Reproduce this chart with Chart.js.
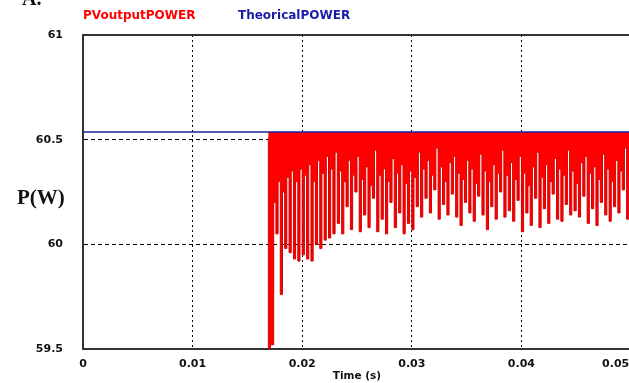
<!DOCTYPE html>
<html>
<head>
<meta charset="utf-8">
<script src="https://cdn.jsdelivr.net/npm/chart.js@4/dist/chart.umd.min.js"></script>
<style>
html,body{margin:0;padding:0;background:#fff;overflow:hidden;width:629px;height:383px;}
#wrap{position:absolute;left:0;top:0;width:660px;height:383px;}
</style>
</head>
<body>
<div id="wrap"><canvas id="c" width="660" height="383"></canvas></div>
<script>
// ---- data ----
const seriesNames = ["PVoutputPOWER", "TheoricalPOWER"];
const xTickLabels = ["0", "0.01", "0.02", "0.03", "0.04", "0.05"];
const yTickLabels = ["59.5", "60", "60.5", "61"];

const theoryTime  = [0, 0.05];
const theoryPower = [60.537, 60.537];

const redTime = [
 0.01690,0.01692,0.01730,0.01750,0.01770,0.01790,0.01810,0.01830,0.01850,0.01870,
 0.01890,0.01910,0.01930,0.01950,0.01970,0.01990,0.02010,0.02030,0.02050,0.02070,
 0.02090,0.02110,0.02130,0.02150,0.02170,0.02190,0.02210,0.02230,0.02250,0.02270,
 0.02290,0.02310,
 0.0233,0.0235,0.0237,0.0239,0.0241,0.0243,0.0245,0.0247,0.0249,0.0251,
 0.0253,0.0255,0.0257,0.0259,0.0261,0.0263,0.0265,0.0267,0.0269,0.0271,
 0.0273,0.0275,0.0277,0.0279,0.0281,0.0283,0.0285,0.0287,0.0289,0.0291,
 0.0293,0.0295,0.0297,0.0299,0.0301,0.0303,0.0305,0.0307,0.0309,0.0311,
 0.0313,0.0315,0.0317,0.0319,0.0321,0.0323,0.0325,0.0327,0.0329,0.0331,
 0.0333,0.0335,0.0337,0.0339,0.0341,0.0343,0.0345,0.0347,0.0349,0.0351,
 0.0353,0.0355,0.0357,0.0359,0.0361,0.0363,0.0365,0.0367,0.0369,0.0371,
 0.0373,0.0375,0.0377,0.0379,0.0381,0.0383,0.0385,0.0387,0.0389,0.0391,
 0.0393,0.0395,0.0397,0.0399,0.0401,0.0403,0.0405,0.0407,0.0409,0.0411,
 0.0413,0.0415,0.0417,0.0419,0.0421,0.0423,0.0425,0.0427,0.0429,0.0431,
 0.0433,0.0435,0.0437,0.0439,0.0441,0.0443,0.0445,0.0447,0.0449,0.0451,
 0.0453,0.0455,0.0457,0.0459,0.0461,0.0463,0.0465,0.0467,0.0469,0.0471,
 0.0473,0.0475,0.0477,0.0479,0.0481,0.0483,0.0485,0.0487,0.0489,0.0491,
 0.0493,0.0495,0.0497,0.0499,0.0501,0.0503
];
const redPower = [
 60.51,59.50,59.52,60.20,60.05,60.30,59.76,60.25,59.98,60.32,
 59.96,60.35,59.93,60.30,59.92,60.36,59.95,60.33,59.93,60.38,
 59.92,60.30,60.00,60.40,59.98,60.34,60.02,60.42,60.03,60.36,
 60.05,60.44,
 60.10,60.35,60.05,60.30,60.18,60.40,60.07,60.33,60.25,60.42,
 60.06,60.31,60.14,60.37,60.08,60.28,60.22,60.45,60.06,60.33,
 60.12,60.36,60.05,60.30,60.20,60.41,60.08,60.34,60.15,60.38,
 60.05,60.29,60.10,60.35,60.07,60.32,60.18,60.44,60.13,60.36,
 60.22,60.40,60.15,60.33,60.26,60.46,60.12,60.37,60.19,60.30,
 60.14,60.39,60.24,60.42,60.13,60.34,60.09,60.31,60.20,60.40,
 60.15,60.36,60.11,60.29,60.23,60.43,60.14,60.35,60.07,60.30,
 60.18,60.38,60.12,60.34,60.25,60.45,60.13,60.33,60.16,60.39,
 60.11,60.31,60.21,60.42,60.06,60.34,60.15,60.28,60.09,60.37,
 60.22,60.44,60.08,60.32,60.17,60.38,60.10,60.30,60.24,60.41,
 60.12,60.36,60.11,60.33,60.19,60.45,60.14,60.35,60.16,60.29,
 60.13,60.39,60.23,60.42,60.10,60.34,60.17,60.37,60.09,60.31,
 60.20,60.43,60.14,60.36,60.11,60.30,60.18,60.40,60.15,60.35,
 60.26,60.46,60.12,60.33,60.16,60.38
];

// ---- chart ----
const redData = redTime.map((t, i) => ({x: t, y: redPower[i]}));
const theoryData = theoryTime.map((t, i) => ({x: t, y: theoryPower[i]}));

const frameAndText = {
  id: 'frameAndText',
  afterDraw(chart) {
    const ctx = chart.ctx, a = chart.chartArea;
    ctx.save();
    ctx.strokeStyle = '#333';
    ctx.lineWidth = 2;
    ctx.beginPath();
    ctx.moveTo(a.left, a.top);
    ctx.lineTo(a.right + 40, a.top);
    ctx.stroke();
    ctx.font = 'bold 12px "DejaVu Sans"';
    ctx.textBaseline = 'middle';
    ctx.textAlign = 'left';
    ctx.fillStyle = '#ff0000';
    ctx.fillText(seriesNames[0], 83, 16);
    ctx.fillStyle = '#1a1aa8';
    ctx.fillText(seriesNames[1], 238, 16);
    ctx.fillStyle = '#111';
    ctx.font = 'bold 21px "Liberation Serif"';
    ctx.fillText('P(W)', 17, 199);
    ctx.font = 'bold 20px "Liberation Serif"';
    ctx.textBaseline = 'alphabetic';
    ctx.fillText('A.', 22, 5);
    ctx.restore();
  }
};

const NBSP8 = '\u00a0\u00a0\u00a0\u00a0\u00a0\u00a0\u00a0\u00a0';

new Chart(document.getElementById('c'), {
  type: 'line',
  data: {
    datasets: [
      {
        label: seriesNames[0],
        data: redData,
        borderColor: '#d40000',
        backgroundColor: '#ff0000',
        borderWidth: 1,
        pointRadius: 0,
        stepped: 'middle',
        fill: {value: theoryPower[0]},
        order: 1
      },
      {
        label: seriesNames[1],
        data: theoryData,
        borderColor: '#1f1f99',
        borderWidth: 1.5,
        pointRadius: 0,
        fill: false,
        order: 0
      }
    ]
  },
  options: {
    responsive: false,
    animation: false,
    devicePixelRatio: 1,
    layout: {padding: {top: 35, right: 29, left: 0, bottom: 0}},
    plugins: {legend: {display: false}, tooltip: {enabled: false}},
    scales: {
      x: {
        type: 'linear',
        min: 0, max: 0.05,
        z: 1,
        afterFit(s) { s.height = 34; s.paddingRight = 0; s.paddingLeft = 0; },
        grid: {color: '#000', lineWidth: 1, drawTicks: false},
        border: {display: true, color: '#333', width: 2, dash: [2, 3]},
        ticks: {
          stepSize: 0.01,
          padding: 9,
          color: '#111',
          font: {family: 'DejaVu Sans', weight: 'bold', size: 11},
          maxRotation: 0,
          callback: (v, i) => (i === xTickLabels.length - 1 ? xTickLabels[i] + NBSP8 : xTickLabels[i])
        },
        title: {
          display: true, text: 'Time (s)', color: '#111',
          font: {family: 'DejaVu Sans', weight: 'bold', size: 10.5},
          padding: {top: 0, bottom: 0}
        }
      },
      y: {
        type: 'linear',
        min: 59.5, max: 61,
        z: 0,
        afterFit(s) { s.width = 83; },
        grid: {color: '#000', lineWidth: 1, drawTicks: false},
        border: {display: true, color: '#333', width: 2, dash: [4, 3]},
        ticks: {
          stepSize: 0.5,
          padding: 20,
          color: '#111',
          font: {family: 'DejaVu Sans', weight: 'bold', size: 11},
          callback: (v, i) => yTickLabels[i]
        }
      }
    }
  },
  plugins: [frameAndText]
});
</script>
</body>
</html>
